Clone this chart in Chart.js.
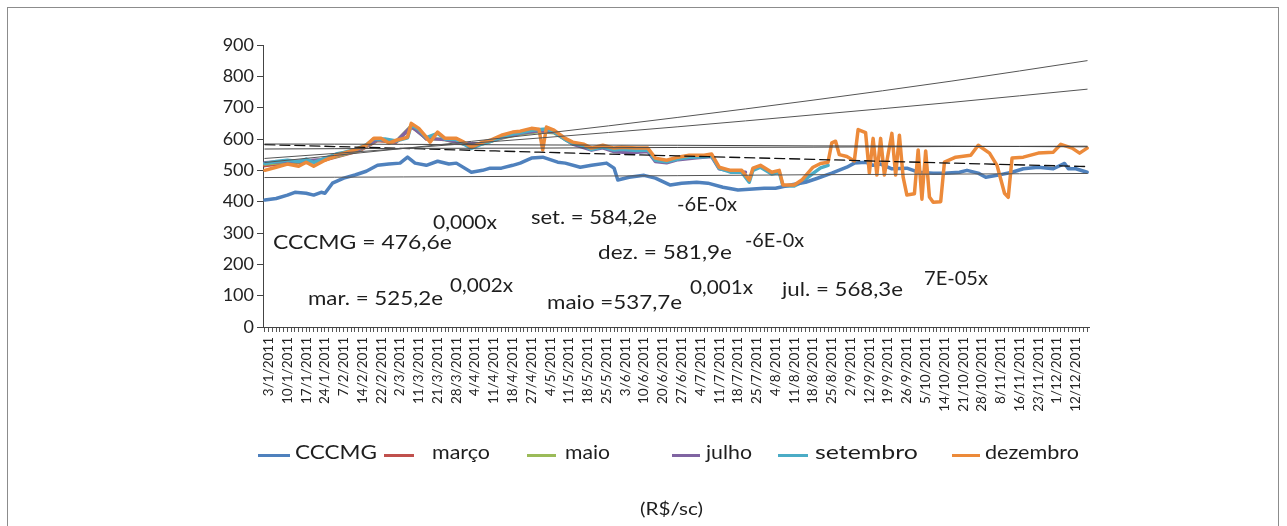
<!DOCTYPE html>
<html>
<head>
<meta charset="utf-8">
<script src="https://cdn.jsdelivr.net/npm/chart.js@4.4.1/dist/chart.umd.min.js"></script>
<style>
  html,body{margin:0;padding:0;background:#fff;}
  #wrap{position:relative;width:1287px;height:526px;overflow:hidden;background:#fff;font-family:Lato,"Open Sans",sans-serif;}
  #frame{position:absolute;left:7px;top:7px;width:1272px;height:600px;border:1px solid #8c8c8c;box-sizing:border-box;}
  canvas{position:absolute;left:0;top:0;}
  .txt{position:absolute;white-space:nowrap;line-height:1;color:#1e1e1e;transform-origin:0 50%;font-family:Lato,"Open Sans",sans-serif;}
  .lg{position:absolute;height:3px;}
</style>
</head>
<body>
<div id="wrap">
  <div id="frame"></div>
  <canvas id="c" width="1287" height="526"></canvas>
</div>
<script>
// ---------- DATA ----------
const tickLabels = ['3/1/2011','10/1/2011','17/1/2011','24/1/2011','7/2/2011','14/2/2011','22/2/2011','2/3/2011','11/3/2011','21/3/2011','28/3/2011','4/4/2011','11/4/2011','18/4/2011','27/4/2011','4/5/2011','11/5/2011','18/5/2011','25/5/2011','3/6/2011','10/6/2011','20/6/2011','27/6/2011','4/7/2011','11/7/2011','18/7/2011','25/7/2011','4/8/2011','11/8/2011','18/8/2011','25/8/2011','2/9/2011','12/9/2011','19/9/2011','26/9/2011','5/10/2011','14/10/2011','21/10/2011','28/10/2011','8/11/2011','16/11/2011','23/11/2011','1/12/2011','12/12/2011'];
const tradingDays = 220;

const cccmgDay = [0,3,6,8,11,13,15,16,18,21,24,27,30,33,36,38,40,43,46,49,51,55,58,60,63,66,68,71,74,78,80,84,87,91,93,94,97,101,104,108,111,115,118,122,126,129,133,136,140,144,147,151,155,157,160,162,164,167,171,174,178,181,185,187,190,192,195,199,202,206,210,213,214,216,219];
const cccmgVal = [405,410,421,430,427,421,430,427,459,475,485,497,516,520,523,542,523,516,529,520,523,494,500,507,507,516,523,539,542,526,523,510,516,523,507,469,478,484,475,453,459,462,459,446,437,440,443,443,453,462,474,491,510,523,526,516,520,505,507,494,491,491,494,500,491,478,484,494,505,510,505,522,505,505,494];

const marcoDay = [0,5,10,15,20,25,30,35,39,41,43];
const marcoVal = [515,522,526,530,546,562,595,590,638,626,600];

const maioDay = [0,5,10,15,20,25,30,35,39,43,48,53,58,63,68,73,77,82,85];
const maioVal = [520,526,528,532,548,564,597,592,642,602,598,584,585,603,616,624,620,585,578];

const julhoDay = [0,5,10,15,20,25,30,35,39,43,48,53,58,63,68,73,77,82,87,90,93,97,102,104,107,110,115,119,121,125,128];
const julhoVal = [524,528,530,534,550,566,598,592,640,602,598,585,586,604,618,626,622,584,565,572,560,556,560,528,524,534,540,544,505,496,494];

const setembroDay = [0,3,6,9,11,13,16,19,21,24,27,29,32,35,38,39,41,43,46,48,51,55,58,60,63,66,68,71,75,77,80,82,85,87,90,93,95,99,102,104,107,110,113,117,119,121,124,127,129,130,132,135,137,138,141,143,146,148,150];
const setembroVal = [522,528,532,528,536,525,538,552,557,566,581,600,600,594,604,645,630,604,618,600,598,570,585,592,606,616,620,628,632,624,598,586,578,566,574,565,567,563,565,532,527,536,542,543,546,506,494,494,462,500,510,488,494,450,450,462,490,508,516];

const dezembroDay = [0,3,6,9,11,13,16,19,21,24,27,29,31,33,35,37,38,39,41,43,44,46,48,51,53,55,58,60,63,66,68,71,73,74,75,77,80,82,85,87,90,93,95,99,102,104,107,110,113,117,119,121,124,127,129,130,132,135,137,138,141,143,146,148,150,151,152,153,155,157,158,160,161,162,163,164,165,167,168,169,170,171,173,174,175,176,177,178,180,181,184,188,190,193,195,197,198,199,202,206,210,212,215,217,219];
const dezembroVal = [500,510,520,513,526,513,532,548,555,565,580,602,602,587,596,602,606,650,634,606,590,622,602,602,590,574,590,596,612,622,625,634,631,565,638,628,602,590,583,571,580,571,574,571,571,539,532,542,548,548,552,510,500,500,469,507,516,494,500,453,453,469,510,522,526,588,593,550,544,530,630,620,491,602,485,602,485,618,485,612,478,421,425,565,408,562,415,398,400,526,542,548,580,555,516,427,414,539,542,555,558,583,571,555,571];

// exponential trend lines (value at the given days)
const trendDay = [0,37,73,110,146,183,219];
const trendCccmg = [477,479,481,483,486,488,490];
const trendMar = [525,570,616,669,724,785,850];
const trendMaio = [538,570,603,639,677,717,759];
const trendJul = [568,570,571,573,574,576,577];
const trendSet = [584,583,581,580,578,577,575];
const trendDez = [582,570,558,546,535,523,512];

const yTicks = [0,900,100]; // min, max, step

// ---------- BUILD ----------
const pts = (d, v) => d.map((x, i) => ({x, y: v[i]}));
const COL = {cccmg:'#4F81BD', marco:'#C0504D', maio:'#9BBB59', julho:'#8064A2', set:'#4BACC6', dez:'#EC8A3A'};

function series(label, d, v, color, order){
  return {label, data: pts(d, v), borderColor: color, backgroundColor: color, borderWidth: 3.5, order, pointRadius: 0, fill: false};
}
function trend(label, v, color, width, dash){
  return {label, data: pts(trendDay, v), borderColor: color, borderWidth: width, borderDash: dash || [], order: -1, pointRadius: 0, fill:false, cubicInterpolationMode:'monotone'};
}

const datasets = [
  series('CCCMG', cccmgDay, cccmgVal, COL.cccmg, 1),
  series('março', marcoDay, marcoVal, COL.marco, 5),
  series('maio', maioDay, maioVal, COL.maio, 4),
  series('julho', julhoDay, julhoVal, COL.julho, 3),
  series('setembro', setembroDay, setembroVal, COL.set, 2),
  series('dezembro', dezembroDay, dezembroVal, COL.dez, 0),
  trend('Exp. (CCCMG)', trendCccmg, '#555', 1),
  trend('Exp. (março)', trendMar, '#555', 1),
  trend('Exp. (maio)', trendMaio, '#555', 1),
  trend('Exp. (julho)', trendJul, '#444', 1),
  trend('Exp. (setembro)', trendSet, '#444', 1),
  trend('Exp. (dezembro)', trendDez, '#111', 1.3, [10,5])
];

const allDays = Array.from({length: tradingDays}, (_, i) => i);

new Chart(document.getElementById('c'), {
  type: 'line',
  data: {datasets},
  options: {
    responsive: false, animation: false, devicePixelRatio: 1,
    layout: {padding: {left: 0, right: 198, top: 45, bottom: 0}},
    plugins: {legend: {display: false}, tooltip: {enabled: false}},
    elements: {point: {radius: 0}, line: {tension: 0, borderJoinStyle: 'round', borderCapStyle: 'round'}},
    scales: {
      x: {
        type: 'linear', min: -0.5, max: tradingDays - 0.5,
        afterBuildTicks: s => { s.ticks = allDays.map(v => ({value: v})); },
        afterFit: s => { s.height = 199; },
        ticks: {
          autoSkip: false, maxRotation: 90, minRotation: 90, padding: 5,
          font: {family: 'Lato', size: 13.5}, color: '#222',
          callback: v => ((v - 1) % 5 === 0 && (v - 1) / 5 < tickLabels.length) ? tickLabels[(v - 1) / 5] : ''
        },
        grid: {drawOnChartArea: false, drawTicks: true, tickLength: 5, color: '#555'},
        border: {display: true, color: '#444', width: 1}
      },
      y: {
        min: yTicks[0], max: yTicks[1],
        afterFit: s => { s.width = 263; },
        ticks: {stepSize: yTicks[2], padding: 3, font: {family: 'Lato', size: 18}, color: '#222'},
        grid: {drawOnChartArea: false, drawTicks: true, tickLength: 6, color: '#444'},
        border: {display: true, color: '#444', width: 1}
      }
    }
  }
});

// ---------- TEXT OVERLAYS ----------
const wrap = document.getElementById('wrap');
function txt(s, left, cy, width, size){
  const el = document.createElement('div');
  el.className = 'txt';
  el.textContent = s;
  el.style.fontSize = size + 'px';
  el.style.left = left + 'px';
  el.style.top = (cy - 0.53 * size) + 'px';
  wrap.appendChild(el);
  const w = el.getBoundingClientRect().width;
  if (width && w > 0) el.style.transform = 'scaleX(' + (width / w).toFixed(3) + ')';
  return el;
}
// equation labels
txt('0,000x', 433, 222, 64, 19);
txt('set. = 584,2e', 531, 217, 126, 19);
txt('-6E-0x', 677, 204, 60, 19);
txt('CCCMG = 476,6e', 273, 242, 179, 19);
txt('dez. = 581,9e', 598, 252, 134, 19);
txt('-6E-0x', 745, 240, 59, 19);
txt('mar. = 525,2e', 308, 298, 135, 19);
txt('0,002x', 450, 285, 63, 19);
txt('maio =537,7e', 547, 302, 135, 19);
txt('0,001x', 690, 287, 63, 19);
txt('jul. = 568,3e', 782, 289, 121, 19);
txt('7E-05x', 924, 278, 64, 19);

// legend
const legendItems = [
  ['CCCMG', COL.cccmg, 258, 290, 295, 82],
  ['março', COL.marco, 384, 414, 432, 58],
  ['maio', COL.maio, 527, 556, 565, 45],
  ['julho', COL.julho, 672, 700, 706, 46],
  ['setembro', COL.set, 778, 808, 815, 103],
  ['dezembro', COL.dez, 952, 980, 985, 94]
];
legendItems.forEach(([label, color, x1, x2, tx, tw]) => {
  const ln = document.createElement('div');
  ln.className = 'lg';
  ln.style.left = x1 + 'px'; ln.style.width = (x2 - x1) + 'px';
  ln.style.top = '454px'; ln.style.background = color;
  wrap.appendChild(ln);
  txt(label, tx, 452, tw, 19);
});

// axis caption
txt('(R$/sc)', 640, 509, 63, 18);
</script>
</body>
</html>
